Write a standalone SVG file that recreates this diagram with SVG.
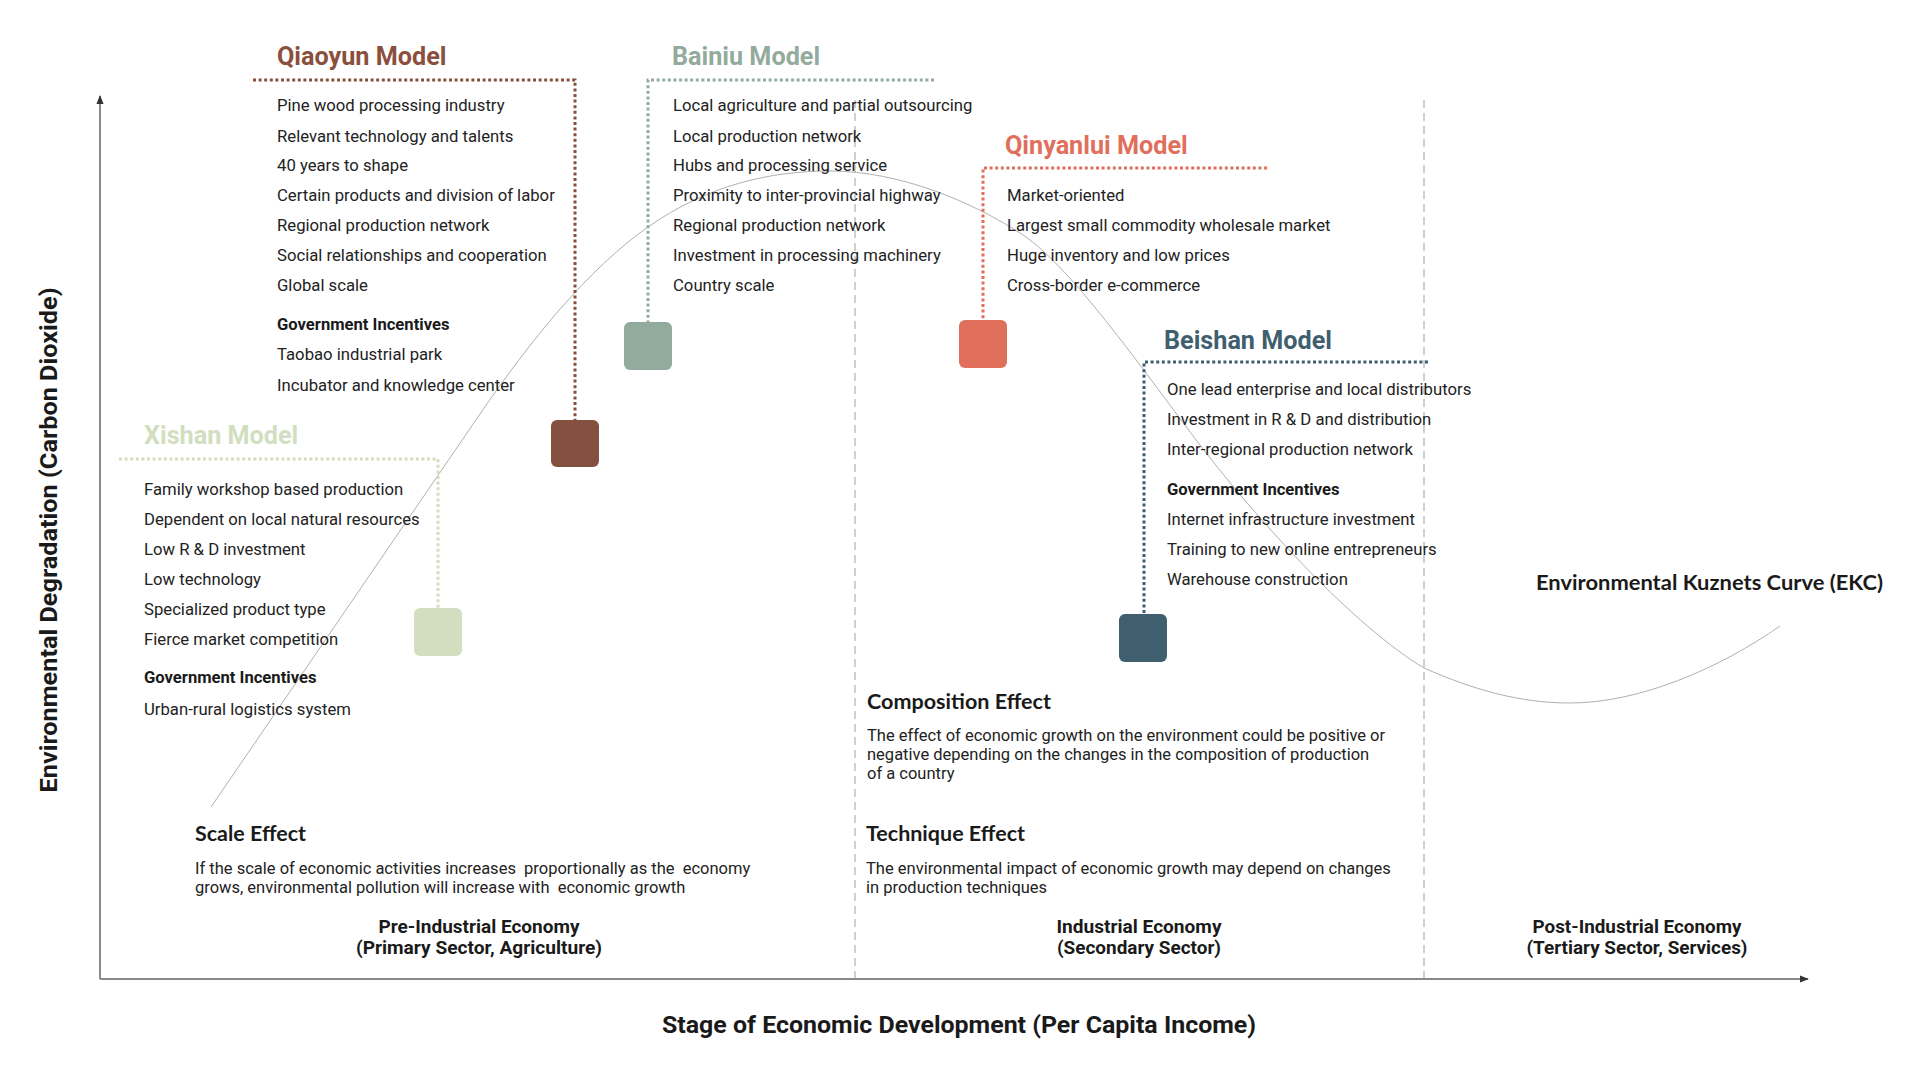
<svg xmlns="http://www.w3.org/2000/svg" width="1920" height="1080" viewBox="0 0 1920 1080">
<defs>
<style>
.item{font-family:Roboto,"Liberation Sans",sans-serif;font-size:16.7px;fill:#222}
.gi{font-family:Roboto,"Liberation Sans",sans-serif;font-size:16.6px;font-weight:700;fill:#1a1a1a}
.title{font-family:Roboto,"Liberation Sans",sans-serif;font-size:25.2px;font-weight:700}
.eff{font-family:Lato,"Liberation Sans",sans-serif;font-size:20.5px;font-weight:700;fill:#1a1a1a}
.body{font-family:Roboto,"Liberation Sans",sans-serif;font-size:16.5px;fill:#222}
.stage{font-family:Roboto,"Liberation Sans",sans-serif;font-size:18.5px;font-weight:700;text-anchor:middle;fill:#1a1a1a}
.axlabel{font-family:Roboto,"Liberation Sans",sans-serif;font-size:24px;font-weight:700;fill:#1a1a1a;text-anchor:middle}
.ekc{font-family:Lato,"Liberation Sans",sans-serif;font-size:21px;font-weight:700;fill:#1a1a1a}
.axis{stroke:#8a8a8a;stroke-width:2;fill:none}
.vdash{stroke:#b0b0b0;stroke-width:1.2;stroke-dasharray:8 5;fill:none}
.curve{stroke:#b0b0b0;stroke-width:1;fill:none}
.lead{stroke-width:3;stroke-dasharray:3 2.6;fill:none}
</style>
<marker id="ah" viewBox="0 0 10 10" refX="9" refY="5" markerWidth="9" markerHeight="9" orient="auto" markerUnits="userSpaceOnUse">
<path d="M0,1 L10,5 L0,9 z" fill="#333"/>
</marker>
</defs>
<rect width="1920" height="1080" fill="#ffffff"/>

<g id="connectors">
<line class="vdash" x1="855" y1="100" x2="855" y2="979"/>
<line class="vdash" x1="1424" y1="100" x2="1424" y2="979"/>
<path class="curve" d="M211,807 L480,414 C530,341 588,269 648,227 C708,185 770,171 830,171 C900,171 973,202 1023,235 C1073,268 1150,380 1200,445 C1260,523 1354,626 1424,668 C1474,690 1520,703 1570,703 C1640,703 1720,668 1780,626"/>
<line class="axis" x1="100" y1="979" x2="100" y2="96" marker-end="url(#ah)"/>
<line class="axis" x1="100" y1="979" x2="1808" y2="979" marker-end="url(#ah)"/>
<polyline class="lead" stroke="#8a4f3d" points="253,80 575,80 575,420"/>
<polyline class="lead" stroke="#93ab9c" points="934,80 648,80 648,322"/>
<polyline class="lead" stroke="#e06f5c" points="1267,168 983,168 983,320"/>
<polyline class="lead" stroke="#3f5f6e" points="1428,362 1144,362 1144,614"/>
<polyline class="lead" stroke="#d2debf" points="119,459 438,459 438,608"/>
</g>

<g id="qiaoyun">
<text class="title" x="277" y="65" fill="#8a4f3d">Qiaoyun Model</text>
<text class="item" x="277" y="111">Pine wood processing industry</text>
<text class="item" x="277" y="142">Relevant technology and talents</text>
<text class="item" x="277" y="171">40 years to shape</text>
<text class="item" x="277" y="201">Certain products and division of labor</text>
<text class="item" x="277" y="231">Regional production network</text>
<text class="item" x="277" y="261">Social relationships and cooperation</text>
<text class="item" x="277" y="291">Global scale</text>
<text class="gi" x="277" y="330">Government Incentives</text>
<text class="item" x="277" y="360">Taobao industrial park</text>
<text class="item" x="277" y="391">Incubator and knowledge center</text>
<rect x="551" y="420" width="48" height="47" rx="6" fill="#845040"/>
</g>

<g id="bainiu">
<text class="title" x="672" y="65" fill="#93ab9c">Bainiu Model</text>
<text class="item" x="673" y="111">Local agriculture and partial outsourcing</text>
<text class="item" x="673" y="142">Local production network</text>
<text class="item" x="673" y="171">Hubs and processing service</text>
<text class="item" x="673" y="201">Proximity to inter-provincial highway</text>
<text class="item" x="673" y="231">Regional production network</text>
<text class="item" x="673" y="261">Investment in processing machinery</text>
<text class="item" x="673" y="291">Country scale</text>
<rect x="624" y="322" width="48" height="48" rx="6" fill="#93ab9c"/>
</g>

<g id="qinyanlui">
<text class="title" x="1005" y="154" fill="#e06f5c">Qinyanlui Model</text>
<text class="item" x="1007" y="201">Market-oriented</text>
<text class="item" x="1007" y="231">Largest small commodity wholesale market</text>
<text class="item" x="1007" y="261">Huge inventory and low prices</text>
<text class="item" x="1007" y="291">Cross-border e-commerce</text>
<rect x="959" y="320" width="48" height="48" rx="6" fill="#e06f5c"/>
</g>

<g id="beishan">
<text class="title" x="1164" y="349" fill="#3f5f6e">Beishan Model</text>
<text class="item" x="1167" y="395">One lead enterprise and local distributors</text>
<text class="item" x="1167" y="425">Investment in R &amp; D and distribution</text>
<text class="item" x="1167" y="455">Inter-regional production network</text>
<text class="gi" x="1167" y="495">Government Incentives</text>
<text class="item" x="1167" y="525">Internet infrastructure investment</text>
<text class="item" x="1167" y="555">Training to new online entrepreneurs</text>
<text class="item" x="1167" y="585">Warehouse construction</text>
<rect x="1119" y="614" width="48" height="48" rx="6" fill="#3f5f6e"/>
</g>

<g id="xishan">
<text class="title" x="144" y="444" fill="#d2debf">Xishan Model</text>
<text class="item" x="144" y="495">Family workshop based production</text>
<text class="item" x="144" y="525">Dependent on local natural resources</text>
<text class="item" x="144" y="555">Low R &amp; D investment</text>
<text class="item" x="144" y="585">Low technology</text>
<text class="item" x="144" y="615">Specialized product type</text>
<text class="item" x="144" y="645">Fierce market competition</text>
<text class="gi" x="144" y="683">Government Incentives</text>
<text class="item" x="144" y="715">Urban-rural logistics system</text>
<rect x="414" y="608" width="48" height="48" rx="6" fill="#d2debf"/>
</g>

<g id="composition-effect">
<text class="eff" x="867" y="709" textLength="184" lengthAdjust="spacingAndGlyphs">Composition Effect</text>
<text class="body" x="867" y="741">The effect of economic growth on the environment could be positive or</text>
<text class="body" x="867" y="760">negative depending on the changes in the composition of production</text>
<text class="body" x="867" y="779">of a country</text>
</g>

<g id="technique-effect">
<text class="eff" x="866" y="841" textLength="159" lengthAdjust="spacingAndGlyphs">Technique Effect</text>
<text class="body" x="866" y="874">The environmental impact of economic growth may depend on changes</text>
<text class="body" x="866" y="893">in production techniques</text>
</g>

<g id="scale-effect">
<text class="eff" x="195" y="841" textLength="111" lengthAdjust="spacingAndGlyphs">Scale Effect</text>
<text class="body" x="195" y="874" xml:space="preserve">If the scale of economic activities increases  proportionally as the  economy</text>
<text class="body" x="195" y="893" xml:space="preserve">grows, environmental pollution will increase with  economic growth</text>
</g>

<g id="stage-pre">
<text class="stage" x="479" y="933" textLength="201" lengthAdjust="spacingAndGlyphs">Pre-Industrial Economy</text>
<text class="stage" x="479" y="954" textLength="246" lengthAdjust="spacingAndGlyphs">(Primary Sector, Agriculture)</text>
</g>
<g id="stage-industrial">
<text class="stage" x="1139" y="933" textLength="165" lengthAdjust="spacingAndGlyphs">Industrial Economy</text>
<text class="stage" x="1139" y="954" textLength="164" lengthAdjust="spacingAndGlyphs">(Secondary Sector)</text>
</g>
<g id="stage-post">
<text class="stage" x="1637" y="933" textLength="209" lengthAdjust="spacingAndGlyphs">Post-Industrial Economy</text>
<text class="stage" x="1637" y="954" textLength="221" lengthAdjust="spacingAndGlyphs">(Tertiary Sector, Services)</text>
</g>

<g id="ekc-label">
<text class="ekc" x="1536" y="590" textLength="347" lengthAdjust="spacingAndGlyphs">Environmental Kuznets Curve (EKC)</text>
</g>

<g id="axis-labels">
<text class="axlabel" x="959" y="1033" textLength="594" lengthAdjust="spacingAndGlyphs">Stage of Economic Development (Per Capita Income)</text>
<text class="axlabel" transform="translate(57,540) rotate(-90)" x="0" y="0" textLength="505" lengthAdjust="spacingAndGlyphs">Environmental Degradation (Carbon Dioxide)</text>
</g>
</svg>
